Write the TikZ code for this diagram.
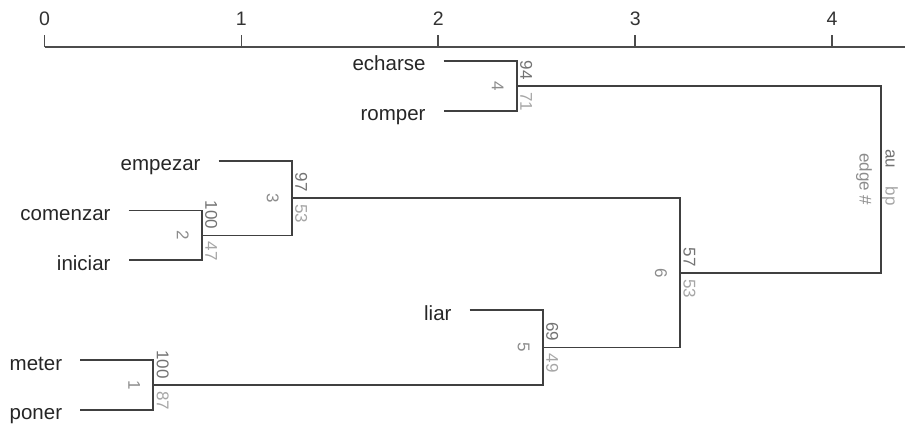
\documentclass[tikz,border=0pt]{standalone}
\usepackage{fontspec}
\setmainfont{Liberation Sans}
\begin{document}
\begin{tikzpicture}[x=1pt, y=-1pt,
  branch/.style={draw=black!75, line width=1.8pt},
  axisline/.style={draw=black!70, line width=1.8pt},
  leaflabel/.style={anchor=base east, inner sep=0pt, text=black!85,
    font=\fontsize{20.5}{24}\selectfont},
  ticklabel/.style={anchor=base, inner sep=0pt, text=black!80,
    font=\fontsize{19.5}{23}\selectfont},
  pvnum/.style={rotate=-90, inner sep=0pt, font=\fontsize{17}{20}\selectfont},
  aulab/.style={pvnum, anchor=east, text=black!55},
  bplab/.style={pvnum, anchor=west, text=black!35},
  edgelab/.style={pvnum, anchor=center, text=black!45}
]
\useasboundingbox (0,0) rectangle (905,427);

% height axis
\coordinate (ax0) at (44.5,47.3);
\coordinate (axend) at (905,47.3);
\draw[axisline] (ax0) -- (axend);
\foreach \k in {0,...,4} {
  \coordinate (t\k) at ({44.5+196.9*\k},47.3);
  \coordinate (tt\k) at ({44.5+196.9*\k},35);
  \draw[axisline] (t\k) -- (tt\k);
  \node[ticklabel] (tl\k) at ({44.5+196.9*\k},25.5) {\k};
}

% leaf tips
\coordinate (echarse)  at (443.7,61);
\coordinate (romper)   at (443.7,110.85);
\coordinate (empezar)  at (218.7,160.7);
\coordinate (comenzar) at (128.7,210.55);
\coordinate (iniciar)  at (128.7,260.4);
\coordinate (liar)     at (469.7,310.25);
\coordinate (meter)    at (80.3,360.1);
\coordinate (poner)    at (80.3,409.95);

% merge points
\coordinate (n1) at (153.3,385);
\coordinate (n2) at (201.7,235.5);
\coordinate (n3) at (291.7,198.1);
\coordinate (n4) at (516.7,85.9);
\coordinate (n5) at (542.7,347.6);
\coordinate (n6) at (680,272.9);
\coordinate (root) at (881,179.4);

% leaf labels
\foreach \w in {echarse,romper,empezar,comenzar,iniciar,liar,meter,poner} {
  \node[leaflabel] (lab-\w) at ([shift={(-18,10)}]\w) {\w};
}

% branches
\draw[branch] (meter) -| (n1) |- (poner);
\draw[branch] (comenzar) -| (n2) |- (iniciar);
\draw[branch] (empezar) -| (n3) |- (n2);
\draw[branch] (echarse) -| (n4) |- (romper);
\draw[branch] (liar) -| (n5) |- (n1);
\draw[branch] (n3) -| (n6) |- (n5);
\draw[branch] (n4) -| (root) |- (n6);

% au / bp / edge numbers
\foreach \n/\au/\bp/\e in {n1/100/87/1, n2/100/47/2, n3/97/53/3,
                           n4/94/71/4, n5/69/49/5, n6/57/53/6} {
  \node[aulab] (au-\n) at ([shift={(9.5,-6)}]\n) {\au};
  \node[bplab] (bp-\n) at ([shift={(9.5,6)}]\n) {\bp};
  \node[edgelab] (ed-\n) at ([shift={(-19,0)}]\n) {\e};
}

% legend at the root
\node[aulab] (au-root) at ([shift={(9,-11)}]root) {au};
\node[bplab] (bp-root) at ([shift={(9,7)}]root) {bp};
\node[edgelab] (ed-root) at ([shift={(-17,0)}]root) {edge \#};
\end{tikzpicture}
\end{document}
